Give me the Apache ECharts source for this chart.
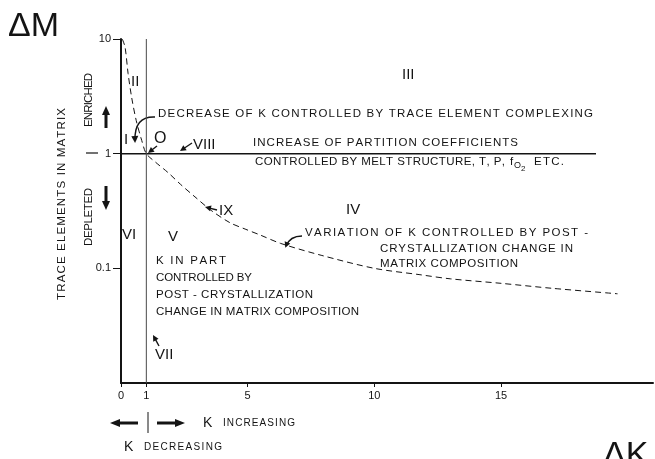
<!DOCTYPE html>
<html><head><meta charset="utf-8">
<script src="https://cdn.jsdelivr.net/npm/echarts@6/dist/echarts.min.js"></script>
<style>html,body{margin:0;padding:0;background:#fff}#c{width:655px;height:459px}</style>
</head><body><div id="c"></div>
<script>
// Partition coefficient K against change of matrix composition (ΔM)
const kTicks = [0, 1, 5, 10, 15];
const mTicks = [0.1, 1, 10];
const curveK = [0.05, 0.16, 0.28, 0.42, 0.6, 0.82, 1, 1.37, 1.87, 2.35, 2.92, 3.56, 4.3, 4.9, 5.5, 6.3, 7.9, 10, 11.8, 13, 15, 17, 19.6];
const curveM = [10, 8.5, 5, 3.1, 1.95, 1.3, 1, 0.84, 0.68, 0.54, 0.42, 0.32, 0.25, 0.22, 0.195, 0.165, 0.13, 0.1, 0.088, 0.081, 0.074, 0.067, 0.06];
const unityK = [0, 18.75];  // ΔM = 1 line
const unityM = [1, 1];
const oneK = [1, 1];        // K = 1 line
const oneM = [0.01, 10];

const FONT = '"Liberation Sans", Arial, sans-serif';
const INK = '#141414';
const ctx = document.createElement('canvas').getContext('2d');

// text spread evenly between x and x + width (letter spacing)
function spaced(str, x, y, width, size, rotation) {
  const font = size + 'px ' + FONT;
  ctx.font = font;
  const chars = [...str];
  const ws = chars.map(ch => ctx.measureText(ch).width);
  const nat = ws.reduce((a, b) => a + b, 0);
  const gap = chars.length > 1 ? (width - nat) / (chars.length - 1) : 0;
  let cx = 0;
  const children = [];
  chars.forEach((ch, i) => {
    if (ch !== ' ') children.push({ type: 'text', x: cx, y: 0,
      style: { text: ch, font, fill: INK, textVerticalAlign: 'middle', verticalAlign: 'middle' } });
    cx += ws[i] + gap;
  });
  return { type: 'group', x, y, rotation: rotation || 0, children, silent: true };
}
function label(str, x, y, size, extra) {
  return { type: 'text', x, y, silent: true,
    style: Object.assign({ text: str, font: size + 'px ' + FONT, fill: INK, textVerticalAlign: 'middle', verticalAlign: 'middle' }, extra || {}) };
}
function head(x, y, ang, len, half) {
  const c = Math.cos(ang), s = Math.sin(ang);
  return { type: 'polygon', silent: true, shape: { points: [
    [x, y], [x - len * c + half * s, y - len * s - half * c], [x - len * c - half * s, y - len * s + half * c]] },
    style: { fill: INK } };
}
function arrow(x1, y1, x2, y2, w, len, half) {
  const ang = Math.atan2(y2 - y1, x2 - x1);
  return [{ type: 'line', silent: true, shape: { x1, y1, x2: x2 - len * 0.6 * Math.cos(ang), y2: y2 - len * 0.6 * Math.sin(ang) },
    style: { stroke: INK, lineWidth: w } }, head(x2, y2, ang, len, half)];
}
function curvedArrow(x1, y1, cx, cy, x2, y2, len, half) {
  const ang = Math.atan2(y2 - cy, x2 - cx);
  return [{ type: 'bezierCurve', silent: true, shape: { x1, y1, cpx1: cx, cpy1: cy, x2, y2 },
    style: { stroke: INK, lineWidth: 1.4, fill: null } }, head(x2 + Math.cos(ang) * 2, y2 + Math.sin(ang) * 2, ang, len, half)];
}

const T = 11.5;  // annotation text size
const graphics = [
  label('ΔM', 8, 27, 34),
  label('ΔK', 603, 456, 34),
  spaced('TRACE ELEMENTS IN MATRIX', 62, 300, 192, T, Math.PI / 2),
  spaced('ENRICHED', 89, 127, 54, T, Math.PI / 2),
  spaced('DEPLETED', 89, 246, 58, T, Math.PI / 2),
  { type: 'line', silent: true, shape: { x1: 86, y1: 153, x2: 98, y2: 153 }, style: { stroke: INK, lineWidth: 1.2 } },
  ...arrow(106, 128, 106, 106, 3, 9, 4),
  ...arrow(106, 186, 106, 210, 3, 9, 4),

  label('II', 131, 82, 15),
  label('III', 402, 75, 15),
  label('I', 124, 140, 15),
  label('O', 154, 139, 16),
  label('VIII', 193, 145, 15),
  label('IX', 219, 211, 15),
  label('IV', 346, 210, 15),
  label('VI', 122, 235, 15),
  label('V', 168, 237, 15),
  label('VII', 155, 355, 15),

  spaced('DECREASE OF K CONTROLLED BY TRACE ELEMENT COMPLEXING', 158, 114, 435, T),
  spaced('INCREASE OF PARTITION COEFFICIENTS', 253, 143, 265, T),
  spaced('CONTROLLED BY MELT STRUCTURE, T, P,', 255, 162, 250, T),
  label('f', 510, 162, T),
  label('O', 514, 166, 9),
  label('2', 521, 169, 8),
  spaced('ETC.', 534, 162, 30, T),
  spaced('VARIATION OF K CONTROLLED BY POST -', 305, 233, 283, T),
  spaced('CRYSTALLIZATION CHANGE IN', 380, 249, 193, T),
  spaced('MATRIX COMPOSITION', 380, 264, 138, T),
  spaced('K IN PART', 156, 261, 70, T),
  spaced('CONTROLLED BY', 156, 278, 96, T),
  spaced('POST - CRYSTALLIZATION', 156, 295, 157, T),
  spaced('CHANGE IN MATRIX COMPOSITION', 156, 312, 203, T),

  label('K', 203, 423, 14),
  spaced('INCREASING', 223, 423, 72, 10),
  label('K', 124, 447, 14),
  spaced('DECREASING', 144, 447, 78, 10),
  ...arrow(138, 423, 110, 423, 3, 10, 4),
  ...arrow(157, 423, 185, 423, 3, 10, 4),
  { type: 'line', silent: true, shape: { x1: 148, y1: 412, x2: 148, y2: 433 }, style: { stroke: INK, lineWidth: 1 } },

  ...curvedArrow(155, 117, 134, 116, 135, 141, 7, 3.5),
  ...arrow(157, 146, 148, 153, 1.4, 6, 3),
  ...arrow(192, 143, 180, 151, 1.4, 6, 3),
  ...arrow(217, 210, 205, 207, 1.4, 6, 3),
  ...curvedArrow(302, 236, 290, 236, 286, 246, 6, 3),
  ...arrow(159, 346, 153, 335, 1.4, 6, 3)
];

const chart = echarts.init(document.getElementById('c'), null, { renderer: 'canvas' });
chart.setOption({
  animation: false,
  backgroundColor: '#fff',
  grid: { left: 121, right: 2, top: 39, bottom: 76 },
  xAxis: {
    type: 'value', min: 0, max: 21,
    axisLine: { lineStyle: { color: INK, width: 2 } },
    axisTick: { show: true, length: 4, lineStyle: { color: INK }, customValues: kTicks },
    axisLabel: { customValues: kTicks, color: INK, fontFamily: FONT, fontSize: 11, margin: 7 },
    splitLine: { show: false }
  },
  yAxis: {
    type: 'log', min: 0.01, max: 10,
    axisLine: { show: true, lineStyle: { color: INK, width: 2 } },
    axisTick: { show: true, length: 8, lineStyle: { color: INK }, customValues: mTicks },
    axisLabel: { customValues: mTicks, color: INK, fontFamily: FONT, fontSize: 11, margin: 10,
      formatter: v => String(v) },
    splitLine: { show: false }
  },
  series: [
    { type: 'line', data: unityK.map((k, i) => [k, unityM[i]]), symbol: 'none',
      lineStyle: { color: INK, width: 1.5 } },
    { type: 'line', data: oneK.map((k, i) => [k, oneM[i]]), symbol: 'none',
      lineStyle: { color: '#4a4a4a', width: 1 } },
    { type: 'line', data: curveK.map((k, i) => [k, curveM[i]]), symbol: 'none', smooth: 0.3,
      lineStyle: { color: INK, width: 1, type: [6, 4] } }
  ],
  graphic: graphics
});
</script>
</body></html>
